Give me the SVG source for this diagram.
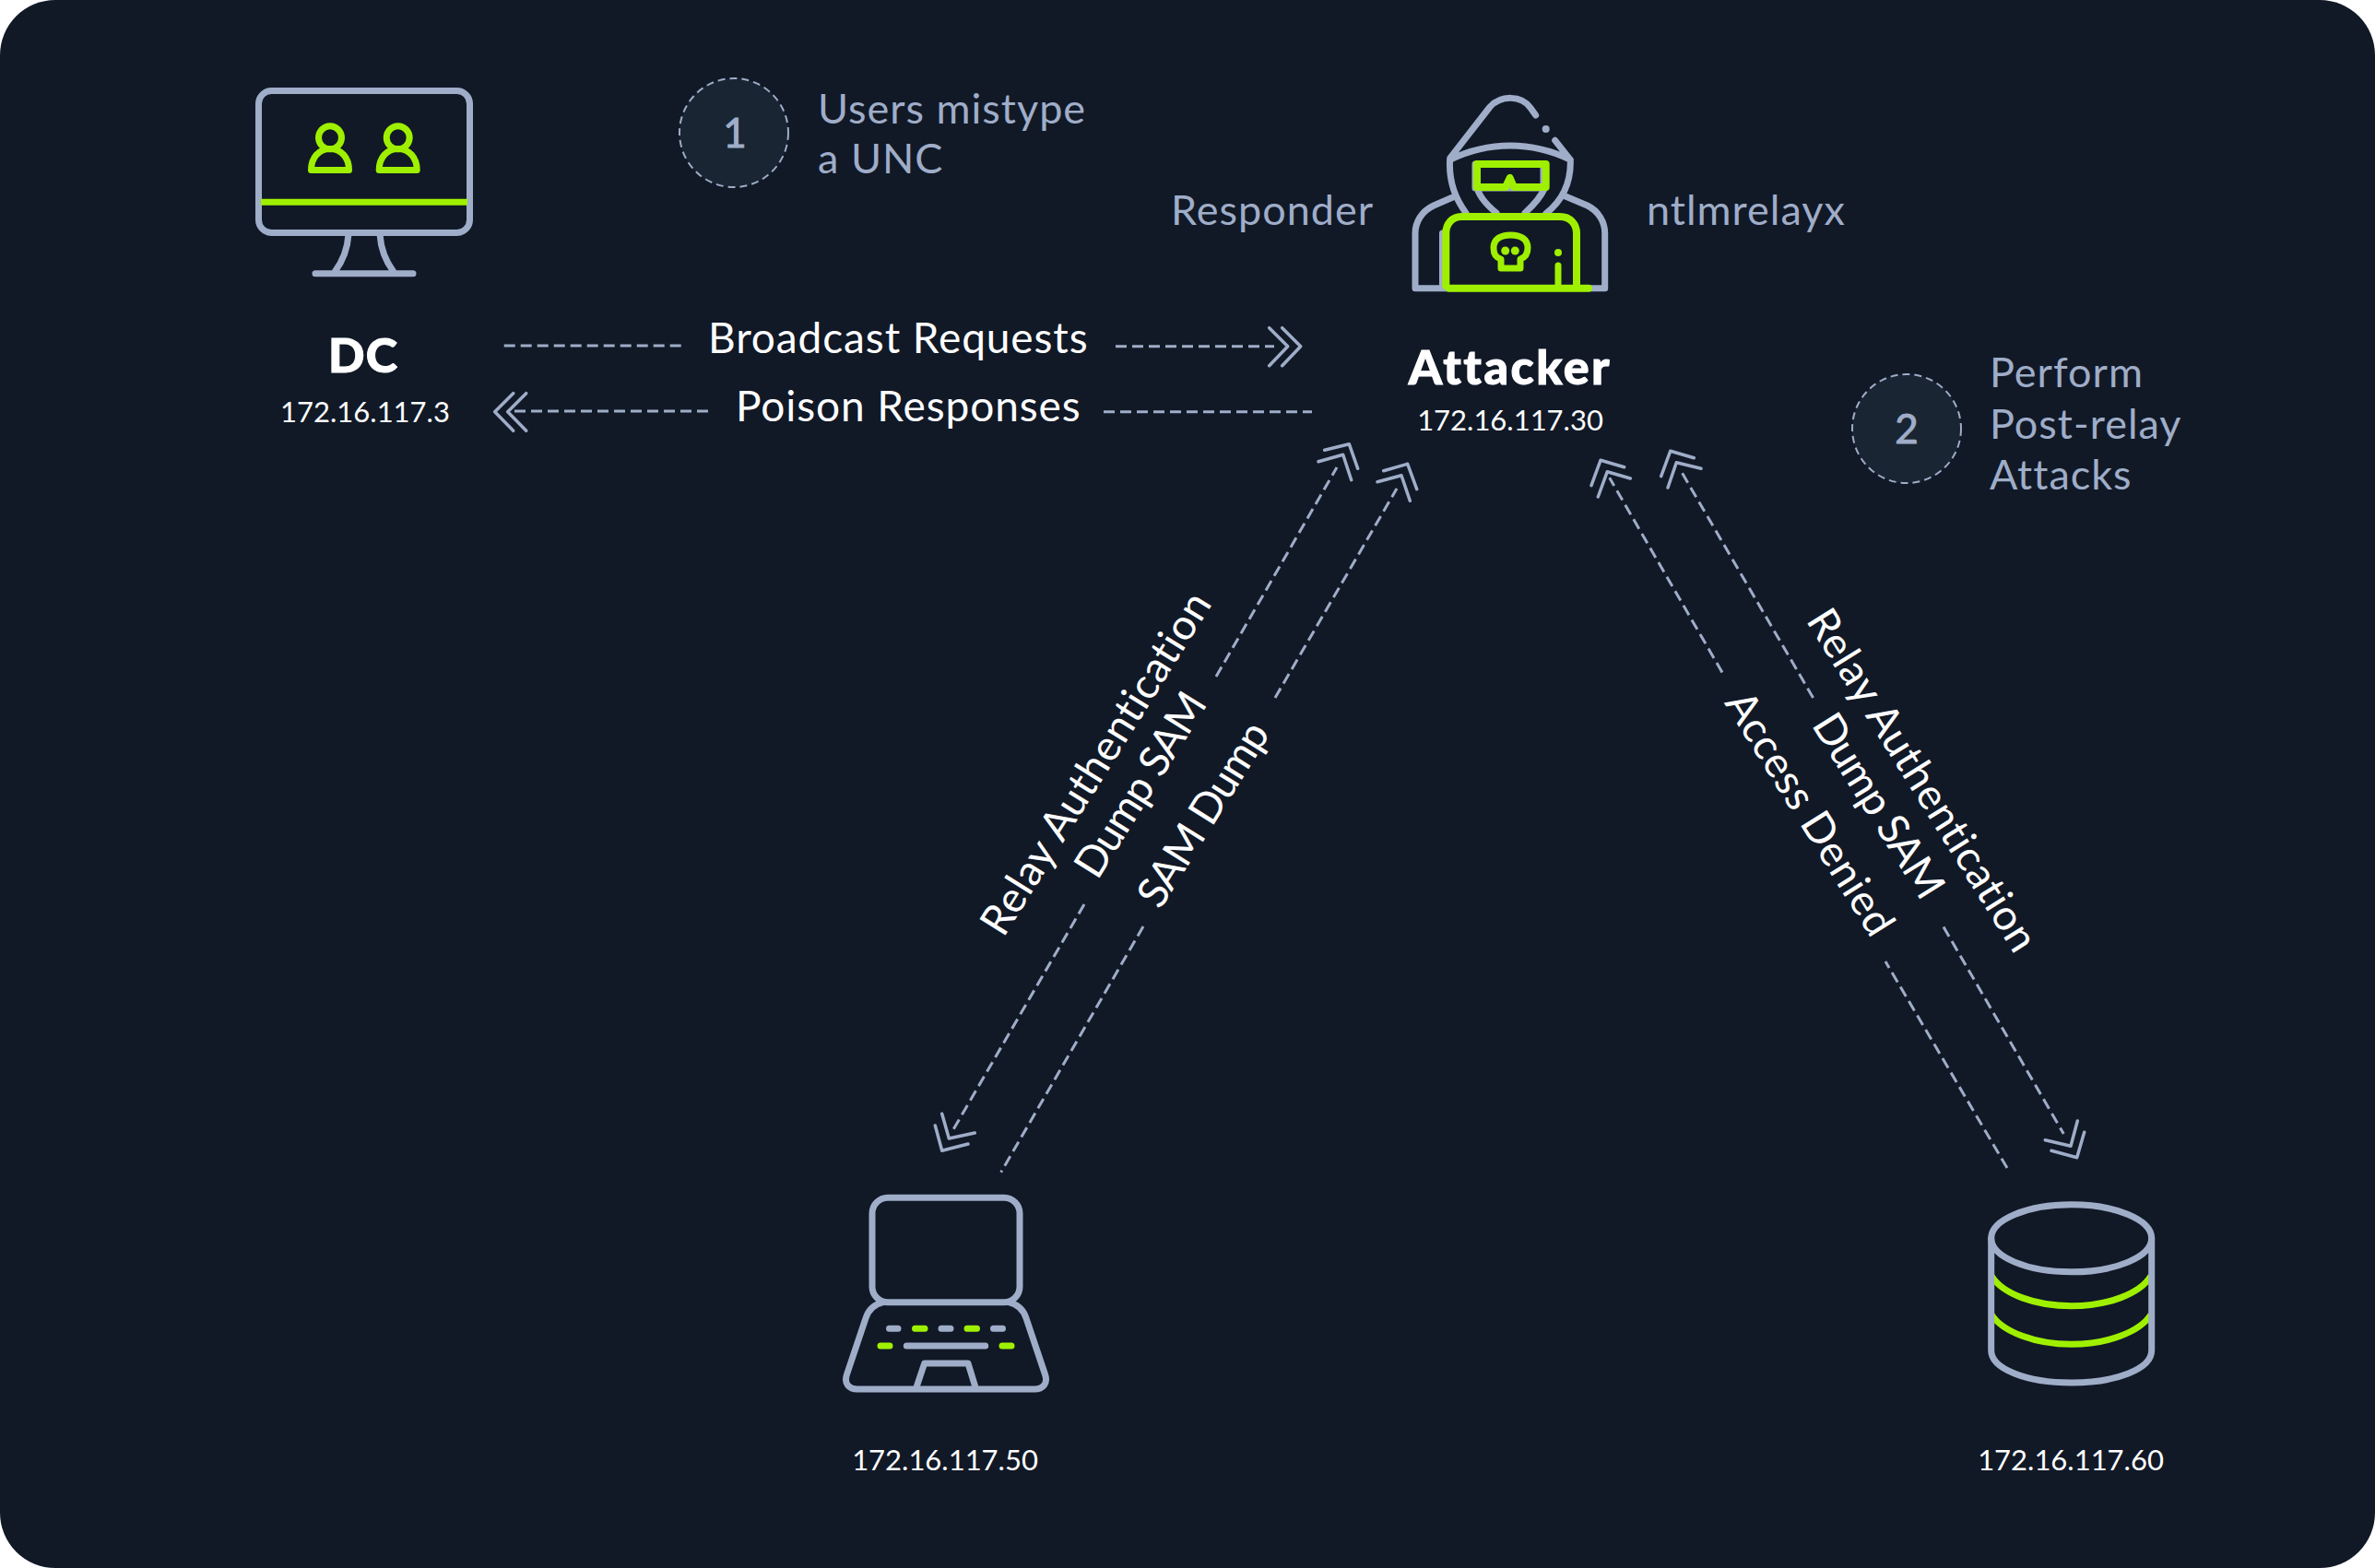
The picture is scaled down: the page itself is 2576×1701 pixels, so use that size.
<svg xmlns="http://www.w3.org/2000/svg" width="2576" height="1701" viewBox="0 0 2576 1701">
<style>
.g{fill:none;stroke:#9fadc8;stroke-width:7;stroke-linecap:round;stroke-linejoin:round}
.l{fill:none;stroke:#9ff000;stroke-width:7;stroke-linecap:round;stroke-linejoin:round}
.d{fill:none;stroke:#9fadc8;stroke-width:3;stroke-dasharray:12 6}
.a{fill:none;stroke:#9fadc8;stroke-width:3.5;stroke-linecap:round;stroke-linejoin:round}
text{font-family:"Lato","Liberation Sans",sans-serif}
.w{fill:#fff;font-size:46px;letter-spacing:.9px}
.r{fill:#fff;font-size:46px;letter-spacing:.6px;text-anchor:middle}
.t{letter-spacing:-1px}
.s{fill:#9fadc8;font-size:45px;letter-spacing:1px}
.ip{fill:#fff;font-size:31px;text-anchor:middle}
.b{fill:#fff;stroke:#fff;stroke-width:1;font-size:52px;font-weight:900;text-anchor:middle;letter-spacing:2.5px}
.c{fill:#1a2533;stroke:#9fadc8;stroke-width:2;stroke-dasharray:8 5}
.n{fill:#9fadc8;font-size:44px;text-anchor:middle;stroke:#9fadc8;stroke-width:1}
</style>
<rect width="2576" height="1701" rx="60" fill="#111927"/>
<g id="connectors">
<path class="d" d="M546.7 375H740M1210 375.7H1382M558 446H770.7M1197 446.7H1423"/>
<path class="a" d="M1376.7 355.7l20 20-20 21M1390.7 355.7l20 20-20 21M556.7 426.7l-20 20 20 20.6M570.7 426.7l-20 20 20 20.6"/>
<path class="d" d="M1319 734L1450 507M1176 981L1031.7 1229.3M1383 757L1515 530M1240 1005L1085.7 1271.7"/>
<path class="a" d="M1436.7 488.3L1463.3 481.7 1472.7 508.3M1430 500.7L1456.7 493.3 1465.7 520.7M1500.7 510.7L1526.7 503.3 1536.7 530.7M1494 522.7L1520 515.7 1529.3 543.3M1014.3 1221L1021.7 1248.3 1050 1241M1021.7 1208.3L1029.3 1235 1057.3 1229"/>
<path class="d" d="M1868 729.5L1745.7 518.3M2177 1267L2045 1043M1966.6 757L1821.7 508.3M2108 1005.5L2238.3 1230"/>
<path class="a" d="M1761.7 506.7L1736 499.3 1726 526.7M1768.3 519L1743.3 511.7 1733.3 539M1837.3 496.7L1811.7 489.3 1801.7 516.7M1845 508.3L1818.3 501.7 1809 529M2253.3 1216L2246 1243.3 2218.3 1236.7M2260.7 1228.3L2252.7 1255.7 2225 1248.3"/>
</g>
<g id="step-1"><circle class="c" cx="796" cy="144" r="59"/><text class="n" x="797" y="160">1</text>
<text class="s" x="887" y="134">Users mistype</text><text class="s" x="887" y="188">a UNC</text></g>
<g id="step-2"><circle class="c" cx="2068" cy="465" r="59"/><text class="n" x="2068" y="481">2</text>
<text class="s" x="2158" y="420">Perform</text><text class="s" x="2158" y="476">Post-relay</text><text class="s" x="2158" y="531">Attacks</text></g>
<g id="dc">
<rect class="g" x="280.5" y="98.5" width="229" height="154" rx="14"/>
<path class="l" d="M283 219.3H507" style="stroke-linecap:butt"/>
<circle class="l" cx="358" cy="149.3" r="12.5"/>
<path class="l" d="M337.5 184.5C337.5 171 346 161.5 358 161.5S378.5 171 378.5 184.5Z"/>
<circle class="l" cx="431.7" cy="149.3" r="12.5"/>
<path class="l" d="M411.2 184.5C411.2 171 419.7 161.5 431.7 161.5S452.2 171 452.2 184.5Z"/>
<path class="g" d="M378 254C377 270 372 283 363 295M412 254C413 270 418 283 427 295M342 296.7H448"/>
<text class="b" x="394" y="404" style="letter-spacing:1px">DC</text><text class="ip" x="396" y="458">172.16.117.3</text>
</g>
<g id="attacker">
<path class="g" d="M1665.7 125L1660 117C1650 103 1628 103 1616 116L1572.7 171.7C1571 195 1578 215 1590 231M1686.7 152.3L1703.3 173.3C1704 195 1698 215 1676.7 231.7M1572.7 173.3C1615 153 1661 153 1703.3 173.3M1601 200C1603 212 1612 222 1623 231M1676 203C1672 212 1664 222 1654 231M1578 213L1555 223C1542 229 1535 241 1535 253V312.7H1572M1698 213L1721.7 223C1734 229 1740.7 241 1740.7 253V312.7H1724M1564.5 310V253M1600 178H1674V204H1600Z"/>
<circle cx="1676.7" cy="140" r="4" fill="#9fadc8"/>
<path class="l" style="stroke-width:8" d="M1604 178H1676.7V203H1642L1637.7 193 1633 203H1602V178M1568.3 310V253C1568.3 243 1575 235 1585 235H1692C1703 235 1710 243 1710 253V310M1571.7 312.7H1723"/>
<path class="l" d="M1628 281C1621 279 1620 274 1620 269C1620 259 1628 255 1638.5 255S1657 259 1657 269C1657 274 1655 279 1649 281V291H1628Z"/>
<circle cx="1632.7" cy="272" r="4.5" fill="#9ff000"/><circle cx="1643.3" cy="272" r="4.5" fill="#9ff000"/>
<circle cx="1690" cy="274" r="4" fill="#9ff000"/><path class="l" d="M1690 288V310"/>
<text class="b" x="1638" y="417">Attacker</text><text class="ip" x="1638" y="467">172.16.117.30</text>
<text class="s" x="1270" y="244">Responder</text><text class="s" x="1786" y="244">ntlmrelayx</text>
</g>
<g id="laptop">
<rect class="g" x="946" y="1299.3" width="160" height="113.4" rx="17"/>
<path class="g" d="M958 1412.7C948 1415 942 1421 939 1430L918.5 1491C915 1501 921 1507 930 1507H1122C1131 1507 1137 1501 1133.5 1491L1113 1430C1110 1421 1104 1415 1094 1412.7M994.3 1504L1002.7 1479H1050L1057.7 1504M983.3 1460H1068.7M964.5 1441.3H974M1021 1441.3H1031M1077.5 1441.3H1087.5"/>
<path class="l" d="M992.5 1441.3H1003M1049 1441.3H1059.5M955 1460H965M1087 1460H1097"/>
<text class="ip" x="1025" y="1595">172.16.117.50</text>
</g>
<g id="server">
<path class="l" style="stroke-linecap:butt" d="M2160 1384C2172 1404 2208 1416.7 2246.7 1416.7S2321 1404 2333 1384M2160 1426C2172 1445 2208 1458.3 2246.7 1458.3S2321 1445 2333 1426"/>
<ellipse class="g" cx="2246.7" cy="1343.3" rx="87" ry="36.5"/>
<path class="g" d="M2159.7 1343.3V1465C2159.7 1485 2198 1500 2246.7 1500S2333.7 1485 2333.7 1465V1343.3"/>
<text class="ip" x="2246" y="1595">172.16.117.60</text>
</g>
<g id="labels">
<text class="w" x="768" y="383">Broadcast Requests</text>
<text class="w" x="798" y="457">Poison Responses</text>
<text class="r" transform="translate(1202 836) rotate(-58)">Relay Authentication</text>
<text class="r t" transform="translate(1250 860) rotate(-58)">Dump SAM</text>
<text class="r t" transform="translate(1318 892) rotate(-58)">SAM Dump</text>
<text class="r" transform="translate(2072 855) rotate(58)">Relay Authentication</text>
<text class="r t" transform="translate(2024 882) rotate(58)">Dump SAM</text>
<text class="r" transform="translate(1950 891) rotate(58)">Access Denied</text>
</g>
</svg>
